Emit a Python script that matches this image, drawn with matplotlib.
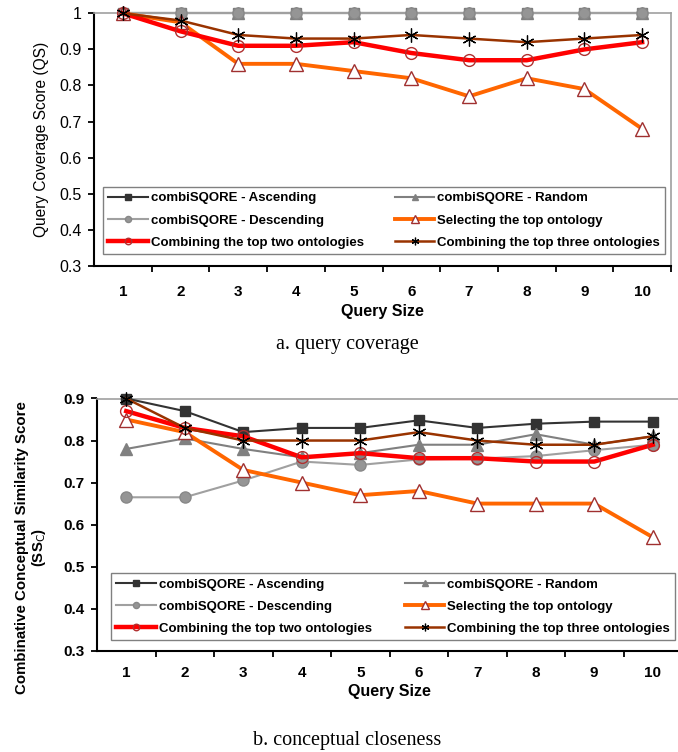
import matplotlib
matplotlib.use("Agg")
import matplotlib.pyplot as plt
from matplotlib.ticker import MultipleLocator, FixedLocator

plt.rcParams['font.family'] = ['Liberation Sans', 'DejaVu Sans']

query_size = [1, 2, 3, 4, 5, 6, 7, 8, 9, 10]
series_names = ["combiSQORE - Ascending", "combiSQORE - Random", "combiSQORE - Descending",
                "Selecting the top ontology", "Combining the top two ontologies",
                "Combining the top three ontologies"]

# (a) query coverage
qs_ascending = [1, 1, 1, 1, 1, 1, 1, 1, 1, 1]
qs_random = [1, 1, 1, 1, 1, 1, 1, 1, 1, 1]
qs_descending = [1, 1, 1, 1, 1, 1, 1, 1, 1, 1]
qs_top1 = [1.0, 0.975, 0.86, 0.86, 0.84, 0.82, 0.77, 0.82, 0.79, 0.68]
qs_top2 = [1.0, 0.95, 0.91, 0.91, 0.92, 0.89, 0.87, 0.87, 0.90, 0.92]
qs_top3 = [1.0, 0.98, 0.94, 0.93, 0.93, 0.94, 0.93, 0.92, 0.93, 0.94]

# (b) conceptual closeness
ss_ascending = [0.90, 0.87, 0.82, 0.83, 0.83, 0.848, 0.83, 0.84, 0.845, 0.845]
ss_random = [0.78, 0.805, 0.78, 0.76, 0.77, 0.79, 0.79, 0.815, 0.79, 0.81]
ss_descending = [0.665, 0.665, 0.705, 0.75, 0.742, 0.755, 0.757, 0.763, 0.777, 0.79]
ss_top1 = [0.85, 0.82, 0.73, 0.70, 0.67, 0.68, 0.65, 0.65, 0.65, 0.57]
ss_top2 = [0.87, 0.83, 0.81, 0.76, 0.77, 0.758, 0.758, 0.75, 0.75, 0.79]
ss_top3 = [0.90, 0.83, 0.80, 0.80, 0.80, 0.82, 0.80, 0.79, 0.79, 0.81]

W, H = 678, 752
fig = plt.figure(figsize=(W / 100, H / 100), dpi=100)

def px_axes(l, r, t, b):
    return fig.add_axes([l / W, 1 - b / H, (r - l) / W, (b - t) / H])

styles = [
    dict(color='#333333', lw=1.5, marker='s', ms=7.5, mfc='#333333', mec='#333333'),
    dict(color='#808080', lw=1.5, marker='^', ms=8, mfc='#808080', mec='#808080'),
    dict(color='#a0a0a0', lw=1.5, marker='o', ms=8, mfc='#959595', mec='#888888'),
    dict(color='#ff6600', lw=2.8, marker='^', ms=9.5, mfc='white', mec='#a03030', mew=1.0),
    dict(color='#ff0000', lw=3.2, marker='o', ms=8.5, mfc='none', mec='#b03030', mew=1.0),
    dict(color='#993300', lw=1.8, marker=(6, 2, 0), ms=10, mfc='black', mec='black', mew=0.9),
]

def setup(ax, ymin, ymax, bold_y, xpad, ylabel, ylabel_kw):
    ax.set_xlim(0.5, 10.5)
    ax.set_ylim(ymin, ymax)
    ax.yaxis.set_major_locator(MultipleLocator(0.1))
    ax.xaxis.set_major_locator(FixedLocator(query_size))
    ax.xaxis.set_minor_locator(FixedLocator([q + 0.5 for q in query_size]))
    ax.tick_params(axis='x', which='major', length=0, pad=xpad, labelsize=11)
    ax.tick_params(axis='x', which='minor', length=4, width=1.3, direction='out')
    ax.tick_params(axis='y', which='major', length=4, width=1.3, direction='out', pad=5,
                   labelsize=11.5 if not bold_y else 11)
    for lab in ax.get_xticklabels():
        lab.set_fontweight('bold')
    ax.spines['left'].set_linewidth(1.5)
    ax.spines['bottom'].set_linewidth(1.5)
    ax.spines['top'].set_color('#a0a0a0')
    ax.spines['right'].set_color('#a0a0a0')
    ax.spines['top'].set_linewidth(1.2)
    ax.spines['right'].set_linewidth(1.2)
    ax.set_xlabel('Query Size', fontsize=11.5, fontweight='bold', labelpad=3)
    ax.set_ylabel(ylabel, **ylabel_kw)

def legend(ax, handles, anchor):
    order = [0, 2, 4, 1, 3, 5]
    leg = ax.legend([handles[i] for i in order], [series_names[i] for i in order],
                    ncol=2, loc='lower left', bbox_to_anchor=anchor, mode='expand',
                    prop=dict(family='Liberation Sans', weight='bold', size=9.5),
                    frameon=True, fancybox=False, edgecolor='#808080', framealpha=1,
                    handlelength=3.0, handletextpad=0.2, labelspacing=0.75,
                    borderpad=0.4, borderaxespad=0, markerscale=0.55, columnspacing=1.0)
    leg.get_frame().set_linewidth(1.0)

# ---- top chart ----
ax1 = px_axes(94, 671, 13.3, 266)
data1 = [qs_ascending, qs_random, qs_descending, qs_top1, qs_top2, qs_top3]
for i, d in enumerate(data1):
    st = dict(styles[i])
    if i == 0:
        st.update(mfc='#8a8a8a', mec='#7a7a7a')
    ax1.plot(query_size, d, clip_on=False, zorder=3 + i, **st)
setup(ax1, 0.3, 1.0, False, 14, 'Query Coverage Score (QS)', dict(fontsize=11.2, labelpad=7))
ax1.yaxis.set_major_formatter(plt.FuncFormatter(lambda v, p: f"{v:g}"))
leg_handles = []
for i in range(6):
    (ln,) = ax1.plot([], [], **styles[i])
    leg_handles.append(ln)
legend(ax1, leg_handles, (0.0156, 0.0475, 0.974, 0.3))

# ---- bottom chart ----
ax2 = px_axes(97, 682, 398.5, 650.7)
data2 = [ss_ascending, ss_random, ss_descending, ss_top1, ss_top2, ss_top3]
h2 = []
for i, d in enumerate(data2):
    (ln,) = ax2.plot(query_size, d, clip_on=False, zorder=3 + i, **styles[i])
    h2.append(ln)
setup(ax2, 0.3, 0.9, True, 11, 'Combinative Conceptual Similarity Score\n(SS$_\\mathrm{C}$)',
      dict(fontsize=10.8, fontweight='bold', labelpad=6, linespacing=1.05))
ax2.yaxis.set_label_coords(-0.084, 0.41)
ax2.yaxis.set_major_formatter(plt.FuncFormatter(lambda v, p: f"{v:.1f}"))
for lab in ax2.get_yticklabels():
    lab.set_fontweight('bold')
legend(ax2, h2, (0.024, 0.042, 0.964, 0.3))

fig.text(347 / W, 1 - 345 / H, 'a. query coverage', ha='center', va='center',
         family='Liberation Serif', fontsize=14.5)
fig.text(347 / W, 1 - 740 / H, 'b. conceptual closeness', ha='center', va='center',
         family='Liberation Serif', fontsize=14.5)

fig.savefig('out.png', dpi=100)
